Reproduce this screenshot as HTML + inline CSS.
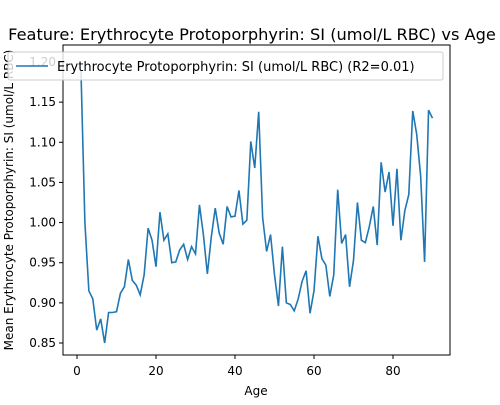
<!DOCTYPE html>
<html><head><meta charset="utf-8"><style>
body{margin:0;background:#fff;width:500px;height:400px;overflow:hidden}
svg{font-family:"DejaVu Sans","Liberation Sans",sans-serif}
</style></head><body>
<svg id="c" width="500" height="400">
<text x="252" y="40" font-size="16.2" text-anchor="middle">Feature: Erythrocyte Protoporphyrin: SI (umol/L RBC) vs Age</text>
<rect x="63" y="45" width="387" height="310" fill="none" stroke="#000" stroke-width="1"/>
<g id="xt"></g>
<g id="yt"></g>
<text x="256" y="395" font-size="12" text-anchor="middle">Age</text>
<text transform="translate(13,200) rotate(-90)" font-size="12" text-anchor="middle">Mean Erythrocyte Protoporphyrin: SI (umol/L RBC)</text>
<polyline id="ln" fill="none" stroke="#1f77b4" stroke-width="1.6"/>
<g>
<rect x="8" y="52" width="435" height="28" rx="2" fill="#fff" fill-opacity="0.8" stroke="#ccc"/>
<line x1="16" y1="66" x2="48" y2="66" stroke="#1f77b4" stroke-width="1.6"/>
<text x="57" y="71" font-size="13">Erythrocyte Protoporphyrin: SI (umol/L RBC) (R2=0.01)</text>
</g>
</svg>
<script>
const ages=[];for(let i=1;i<=90;i++)ages.push(i);
const values=[1.19,1.00,0.915,0.905,0.866,0.880,0.850,0.888,0.888,0.889,0.912,0.920,0.954,0.928,0.922,0.910,0.935,0.993,0.978,0.945,1.013,0.978,0.986,0.950,0.951,0.966,0.973,0.954,0.970,0.961,1.022,0.985,0.936,0.982,1.018,0.987,0.973,1.020,1.007,1.008,1.040,0.998,1.003,1.101,1.068,1.138,1.006,0.964,0.985,0.935,0.896,0.970,0.900,0.898,0.890,0.905,0.927,0.940,0.887,0.915,0.983,0.955,0.947,0.908,0.935,1.041,0.974,0.985,0.920,0.953,1.025,0.978,0.975,0.995,1.020,0.972,1.075,1.038,1.063,0.996,1.067,0.978,1.015,1.035,1.139,1.110,1.058,0.951,1.140,1.130];
const xTicks=[0,20,40,60,80];
const yTicks=[0.85,0.90,0.95,1.00,1.05,1.10,1.15,1.20];
const X=v=>77+v*3.95, Y=v=>343-(v-0.85)*802.9;
const ns="http://www.w3.org/2000/svg";
const xt=document.getElementById('xt'),yt=document.getElementById('yt');
xTicks.forEach(t=>{
 const l=document.createElementNS(ns,'line');l.setAttribute('x1',X(t));l.setAttribute('x2',X(t));l.setAttribute('y1',355);l.setAttribute('y2',359);l.setAttribute('stroke','#000');
 
 
 xt.appendChild(l);
 const s=document.createElementNS(ns,'text');s.setAttribute('x',X(t));s.setAttribute('y',375);s.setAttribute('font-size','12');s.setAttribute('text-anchor','middle');s.textContent=t;
 
 
 xt.appendChild(s);
});
yTicks.forEach(t=>{
 const l=document.createElementNS(ns,'line');l.setAttribute('x1',59);l.setAttribute('x2',63);l.setAttribute('y1',Y(t));l.setAttribute('y2',Y(t));l.setAttribute('stroke','#000');
 
 
 yt.appendChild(l);
 const s=document.createElementNS(ns,'text');s.setAttribute('x',56);s.setAttribute('y',Y(t)+4);s.setAttribute('font-size','12');s.setAttribute('text-anchor','end');s.textContent=t.toFixed(2);
 
 
 yt.appendChild(s);
});
document.getElementById('ln').setAttribute('points',ages.map((a,i)=>X(a)+','+Y(values[i])).join(' '));
</script>
</body></html>
